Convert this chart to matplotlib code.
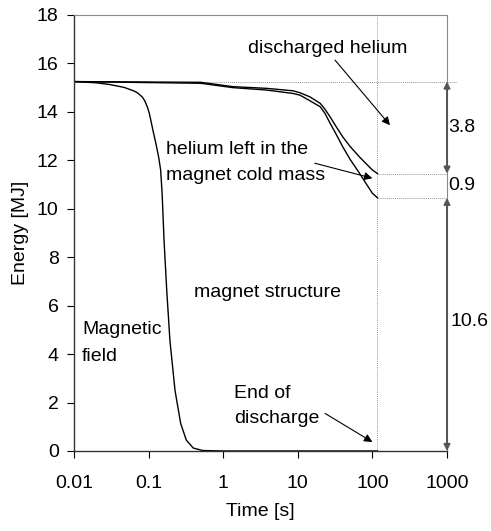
import numpy as np
import matplotlib
matplotlib.use("Agg")
import matplotlib.pyplot as plt

plt.rcParams["font.family"] = ["Liberation Sans", "DejaVu Sans"]
plt.rcParams["font.size"] = 14

# ── data ────────────────────────────────────────
t_field = [0.01, 0.02, 0.03, 0.047, 0.064, 0.0705, 0.082, 0.0887, 0.096, 0.102,
           0.107, 0.115, 0.125, 0.137, 0.145, 0.152, 0.161, 0.175, 0.193, 0.226,
           0.269, 0.32, 0.397, 0.53, 1.0, 117]
e_field = [15.25, 15.2, 15.13, 15.01, 14.86, 14.79, 14.62, 14.46, 14.21, 13.95,
           13.66, 13.2, 12.71, 12.1, 11.6, 10.6, 8.7, 6.64, 4.57, 2.5,
           1.14, 0.45, 0.12, 0.02, 0.0, 0.0]

t_he_upper = [0.01, 0.5, 1.35, 3.86, 8.6, 10.7, 14.5, 20, 23, 27, 33, 40, 50,
              67, 83, 100, 117]
e_he_upper = [15.25, 15.22, 15.04, 14.97, 14.87, 14.79, 14.62, 14.35, 14.12,
              13.8, 13.37, 12.97, 12.58, 12.14, 11.85, 11.6, 11.45]

t_he_lower = [0.01, 0.5, 1.35, 3.86, 8.6, 10.7, 14.5, 20, 23, 27, 33, 40, 50,
              67, 83, 100, 117]
e_he_lower = [15.25, 15.18, 15.0, 14.9, 14.76, 14.69, 14.46, 14.21, 13.95,
              13.54, 13.05, 12.56, 12.05, 11.47, 11.02, 10.64, 10.45]

t_end = 117
e_total = 15.25
e_upper_end = 11.45
e_lower_end = 10.45
split_labels = ["3.8", "0.9", "10.6"]

xticks = [0.01, 0.1, 1, 10, 100, 1000]
xtick_labels = ["0.01", "0.1", "1", "10", "100", "1000"]
yticks = list(range(0, 19, 2))

# ── figure ──────────────────────────────────────
fig = plt.figure(figsize=(4.91, 5.31), dpi=100)
ax = fig.add_axes([0.1507, 0.1507, 0.7597, 0.8211])

ax.set_xscale("log")
ax.set_xlim(0.01, 1000)
ax.set_ylim(0, 18)

# guide lines
dot = dict(color="#999999", lw=0.7, ls=(0, (1, 1)))
ax.plot([t_end, t_end], [0, 18], **dot)
ax.plot([0.01, 1360], [e_total, e_total], clip_on=False, **dot)
ax.plot([t_end, 1000], [e_upper_end, e_upper_end], **dot)
ax.plot([t_end, 1000], [e_lower_end, e_lower_end], **dot)

# curves
ax.plot(t_field, e_field, color="black", lw=1.0)
ax.plot(t_he_upper, e_he_upper, color="black", lw=1.0)
ax.plot(t_he_lower, e_he_lower, color="black", lw=1.0)

# dimension arrows on the right
dim = dict(arrowstyle="<|-|>", color="#555555", lw=1.4,
           mutation_scale=9, shrinkA=0, shrinkB=0)
ax.annotate("", xy=(1000, e_total), xytext=(1000, e_upper_end),
            arrowprops=dim, annotation_clip=False)
ax.annotate("", xy=(1000, e_lower_end), xytext=(1000, 0),
            arrowprops=dim, annotation_clip=False)

ax.text(1030, (e_total + e_upper_end) / 2, split_labels[0], ha="left", va="center")
ax.text(1030, (e_upper_end + e_lower_end) / 2, split_labels[1], ha="left", va="center")
ax.text(1100, 5.35, split_labels[2], ha="left", va="center")

# region labels with pointers
ptr = dict(arrowstyle="-|>", color="black", lw=0.8, mutation_scale=12,
           shrinkA=0, shrinkB=0)
ax.text(2.15, 16.43, "discharged helium", ha="left", va="baseline")
ax.annotate("", xy=(172, 13.45), xytext=(31.5, 16.14), arrowprops=ptr)

ax.text(0.171, 12.26, "helium left in the", ha="left", va="baseline")
ax.text(0.171, 11.18, "magnet cold mass", ha="left", va="baseline")
ax.annotate("", xy=(100, 11.26), xytext=(16.9, 11.88), arrowprops=ptr)

ax.text(0.406, 6.35, "magnet structure", ha="left", va="baseline")

ax.text(0.0128, 4.82, "Magnetic", ha="left", va="baseline")
ax.text(0.0128, 3.7, "field", ha="left", va="baseline")

ax.text(1.40, 2.17, "End of", ha="left", va="baseline")
ax.text(1.40, 1.14, "discharge", ha="left", va="baseline")
ax.annotate("", xy=(100, 0.37), xytext=(23.2, 1.55), arrowprops=ptr)

# axes styling
ax.set_xticks(xticks)
ax.set_xticklabels(xtick_labels)
ax.set_yticks(yticks)
ax.minorticks_off()
ax.tick_params(direction="out", length=5, width=0.8, labelsize=14, pad=6)
ax.tick_params(axis="x", pad=12)
for side in ["top", "right"]:
    ax.spines[side].set_color("#888888")
    ax.spines[side].set_linewidth(0.8)
for side in ["left", "bottom"]:
    ax.spines[side].set_color("#333333")
    ax.spines[side].set_linewidth(1.0)

ax.set_xlabel("Time [s]", fontsize=14, labelpad=8)
ax.set_ylabel("Energy [MJ]", fontsize=14, labelpad=6)

fig.savefig("out.png", dpi=100)
